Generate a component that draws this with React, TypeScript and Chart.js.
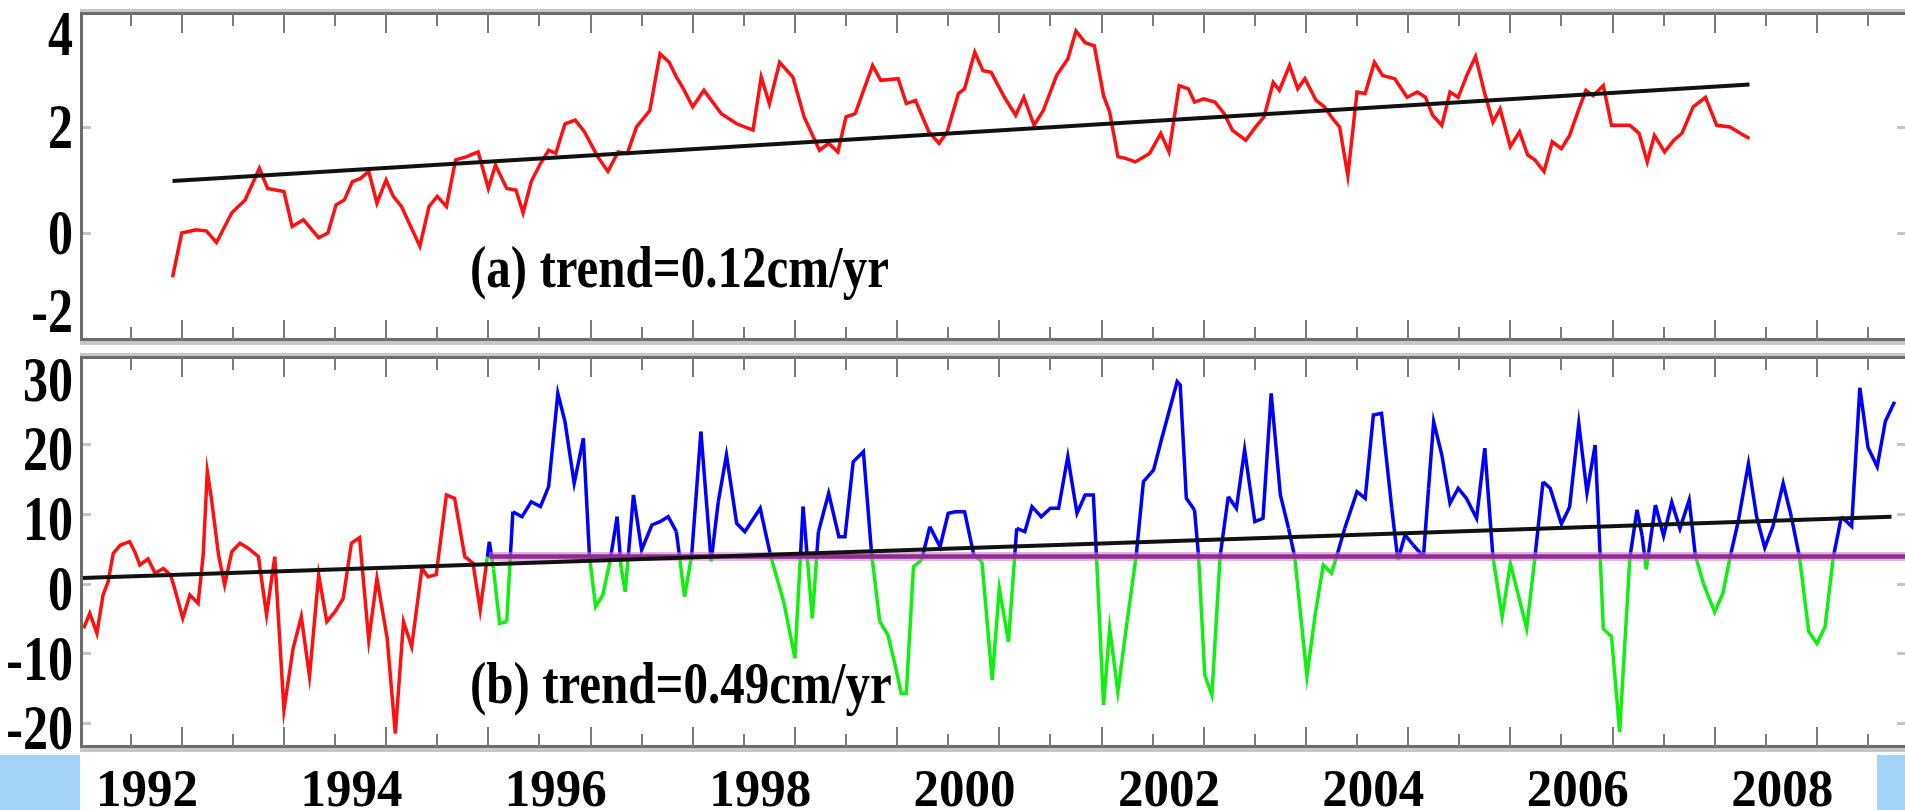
import React, { useEffect, useRef } from 'react';
import { Chart, registerables } from 'chart.js';

Chart.register(...registerables);

// ---------- axis ranges & labels ----------
const X_MIN = 1991.364;
const X_MAX = 2009.202;
const xLabelYears = [1992, 1994, 1996, 1998, 2000, 2002, 2004, 2006, 2008];
const xTickLabels = ['1992', '1994', '1996', '1998', '2000', '2002', '2004', '2006', '2008'];
const topYTicks = [4, 2, 0, -2];
const topYMinor = [2, 0];
const bottomYTicks = [30, 20, 10, 0, -10, -20];
const bottomYMinor = [20, 10, 0, -10, -20];
const annotationA = '(a) trend=0.12cm/yr';
const annotationB = '(b) trend=0.49cm/yr';

// ---------- panel (a) ----------
const topYears = [
  1992.25, 1992.34, 1992.48, 1992.58, 1992.68, 1992.83, 1992.96, 1993.10, 1993.18, 1993.34,
  1993.42, 1993.53, 1993.68, 1993.77, 1993.85, 1993.93, 1994.01, 1994.09, 1994.17, 1994.25,
  1994.34, 1994.41, 1994.49, 1994.67, 1994.76, 1994.84, 1994.93, 1995.02, 1995.13, 1995.24,
  1995.34, 1995.41, 1995.52, 1995.61, 1995.68, 1995.76, 1995.85, 1995.93, 1996.00, 1996.09,
  1996.19, 1996.28, 1996.41, 1996.51, 1996.61, 1996.70, 1996.79, 1996.92, 1997.02, 1997.11,
  1997.18, 1997.24, 1997.34, 1997.45, 1997.62, 1997.77, 1997.93, 1998.01, 1998.09, 1998.19,
  1998.32, 1998.43, 1998.58, 1998.67, 1998.76, 1998.84, 1998.93, 1999.10, 1999.18, 1999.35,
  1999.43, 1999.52, 1999.65, 1999.75, 1999.83, 1999.94, 2000.00, 2000.10, 2000.18, 2000.26,
  2000.39, 2000.50, 2000.58, 2000.68, 2000.77, 2000.90, 2001.01, 2001.09, 2001.18, 2001.27,
  2001.36, 2001.42, 2001.50, 2001.57, 2001.67, 2001.81, 2001.92, 2002.00, 2002.10, 2002.19,
  2002.25, 2002.34, 2002.45, 2002.54, 2002.62, 2002.75, 2002.86, 2002.93, 2003.02, 2003.08,
  2003.18, 2003.26, 2003.33, 2003.44, 2003.52, 2003.60, 2003.67, 2003.75, 2003.84, 2003.92,
  2004.01, 2004.09, 2004.21, 2004.33, 2004.43, 2004.51, 2004.58, 2004.67, 2004.75, 2004.83,
  2004.92, 2005.00, 2005.09, 2005.17, 2005.24, 2005.34, 2005.43, 2005.51, 2005.58, 2005.67,
  2005.75, 2005.84, 2005.92, 2006.00, 2006.08, 2006.15, 2006.25, 2006.33, 2006.42, 2006.51,
  2006.60, 2006.68, 2006.75, 2006.85, 2006.94, 2007.02, 2007.13, 2007.25, 2007.36, 2007.49,
  2007.59, 2007.68,
];
const topValues = [
  -0.84, 0.0, 0.06, 0.04, -0.18, 0.38, 0.62, 1.22, 0.84, 0.78,
  0.12, 0.25, -0.09, 0.0, 0.53, 0.62, 0.97, 1.03, 1.16, 0.56,
  1.0, 0.69, 0.5, -0.25, 0.5, 0.69, 0.5, 1.38, 1.44, 1.53,
  0.84, 1.28, 0.84, 0.81, 0.38, 0.97, 1.31, 1.56, 1.5, 2.06,
  2.13, 1.91, 1.44, 1.16, 1.53, 1.5, 2.0, 2.31, 3.38, 3.22,
  2.94, 2.75, 2.38, 2.69, 2.25, 2.06, 1.94, 2.94, 2.44, 3.22,
  2.94, 2.19, 1.56, 1.69, 1.53, 2.19, 2.25, 3.16, 2.88, 2.91,
  2.44, 2.5, 1.91, 1.69, 1.91, 2.63, 2.72, 3.41, 3.06, 3.03,
  2.56, 2.22, 2.56, 2.03, 2.31, 2.97, 3.28, 3.81, 3.59, 3.53,
  2.59, 2.28, 1.44, 1.41, 1.34, 1.5, 1.88, 1.53, 2.78, 2.72,
  2.47, 2.53, 2.47, 2.25, 1.94, 1.75, 2.03, 2.19, 2.84, 2.69,
  3.16, 2.72, 2.91, 2.5, 2.38, 2.16, 2.0, 1.08, 2.66, 2.63,
  3.22, 2.97, 2.91, 2.56, 2.66, 2.56, 2.22, 2.03, 2.66, 2.56,
  3.0, 3.33, 2.63, 2.09, 2.34, 1.63, 1.91, 1.47, 1.38, 1.16,
  1.72, 1.59, 1.84, 2.28, 2.69, 2.59, 2.78, 2.03, 2.03, 2.03,
  1.88, 1.34, 1.84, 1.53, 1.75, 1.88, 2.38, 2.56, 2.03, 2.0,
  1.88, 1.78,
];
const topTrendYears = [1992.25, 2007.68];
const topTrendValues = [0.98, 2.8];

// ---------- panel (b) ----------
const bottomYears = [
  1991.38, 1991.44, 1991.51, 1991.57, 1991.62, 1991.67, 1991.74, 1991.83, 1991.88, 1991.93,
  1992.01, 1992.08, 1992.16, 1992.23, 1992.27, 1992.35, 1992.42, 1992.50, 1992.55, 1992.59,
  1992.63, 1992.70, 1992.76, 1992.83, 1992.91, 1992.99, 1993.09, 1993.17, 1993.25, 1993.34,
  1993.43, 1993.51, 1993.59, 1993.68, 1993.76, 1993.84, 1993.92, 1994.00, 1994.08, 1994.17,
  1994.25, 1994.35, 1994.43, 1994.51, 1994.59, 1994.69, 1994.75, 1994.83, 1994.93, 1995.01,
  1995.11, 1995.19, 1995.26, 1995.32,
  1995.35, 1995.39, 1995.45, 1995.52, 1995.58, 1995.67, 1995.76, 1995.85, 1995.93, 1996.02,
  1996.09, 1996.18, 1996.27, 1996.33, 1996.39, 1996.46, 1996.53, 1996.60, 1996.64, 1996.68,
  1996.76, 1996.84, 1996.94, 1997.02, 1997.10, 1997.18, 1997.26, 1997.33, 1997.42, 1997.52,
  1997.59, 1997.67, 1997.77, 1997.85, 1998.00, 1998.10, 1998.23, 1998.34, 1998.42, 1998.51,
  1998.57, 1998.67, 1998.77, 1998.83, 1998.91, 1999.01, 1999.09, 1999.17, 1999.25, 1999.32,
  1999.38, 1999.43, 1999.50, 1999.58, 1999.66, 1999.76, 1999.84, 1999.91, 2000.00, 2000.09,
  2000.17, 2000.27, 2000.34, 2000.43, 2000.51, 2000.59, 2000.66, 2000.75, 2000.84, 2000.92,
  2001.01, 2001.10, 2001.18, 2001.26, 2001.29, 2001.36, 2001.42, 2001.50, 2001.59, 2001.68,
  2001.75, 2001.85, 2001.93, 2002.08, 2002.11, 2002.17, 2002.25, 2002.29, 2002.35, 2002.42,
  2002.50, 2002.58, 2002.66, 2002.74, 2002.84, 2002.92, 2003.00, 2003.09, 2003.17, 2003.23,
  2003.35, 2003.43, 2003.51, 2003.59, 2003.64, 2003.72, 2003.84, 2003.92, 2004.00, 2004.08,
  2004.18, 2004.24, 2004.31, 2004.39, 2004.49, 2004.54, 2004.59, 2004.67, 2004.75, 2004.83,
  2004.91, 2005.01, 2005.09, 2005.17, 2005.26, 2005.34, 2005.50, 2005.58, 2005.66, 2005.73,
  2005.84, 2005.92, 2006.01, 2006.09, 2006.17, 2006.22, 2006.25, 2006.33, 2006.41, 2006.51,
  2006.58, 2006.63, 2006.67, 2006.76, 2006.84, 2006.92, 2007.00, 2007.09, 2007.15, 2007.23,
  2007.34, 2007.42, 2007.49, 2007.57, 2007.67, 2007.75, 2007.83, 2007.91, 2008.01, 2008.09,
  2008.17, 2008.26, 2008.34, 2008.42, 2008.50, 2008.58, 2008.68, 2008.76, 2008.84, 2008.93,
  2009.01, 2009.10,
];
const bottomValues = [
  -6.4, -4.25, -7.1, -1.6, 0.3, 4.36, 5.55, 6.03, 4.6, 2.68,
  3.54, 1.49, 2.2, 1.25, -0.66, -4.96, -1.62, -2.81, 4.12, 16.07,
  12.25, 4.12, -0.19, 4.59, 5.8, 5.08, 3.87, -4.49, 3.87, -18.1,
  -9.27, -4.73, -13.3, 1.25, -5.45, -4.02, -2.1, 5.8, 6.6, -8.08,
  0.77, -7.83, -21.5, -5.45, -9.04, 2.2, 1.0, 1.3, 12.73, 12.25,
  3.87, 2.93, -3.77, 2.68,
  6.03, 2.2, -5.68, -5.45, 10.33, 9.61, 11.76, 11.05, 13.92, 27.3,
  23.24, 14.4, 20.86, 3.87, -3.3, -1.62, 3.16, 9.61, 2.2, -1.15,
  12.73, 4.84, 8.42, 8.9, 9.61, 7.46, -1.86, 4.12, 21.8, 3.2,
  11.76, 18.46, 8.66, 7.46, 10.82, 4.12, -2.58, -10.7, 11.05, -4.96,
  7.46, 12.97, 6.74, 6.74, 17.5, 18.94, 4.36, -5.45, -7.36, -11.66,
  -15.72, -15.72, 2.44, 3.4, 8.18, 5.31, 10.1, 10.33, 10.33, 4.12,
  3.16, -13.82, -0.66, -8.32, 7.95, 7.46, 11.05, 9.61, 10.82, 10.82,
  18.22, 10.1, 12.73, 12.73, 4.12, -17.4, -6.4, -15.5, -5.45, 4.12,
  14.63, 16.31, 20.86, 29.0, 28.5, 12.25, 10.57, 3.87, -13.1, -16.0,
  3.87, 12.49, 10.82, 19.2, 8.9, 9.38, 27.3, 12.73, 7.95, 3.87,
  -13.3, -4.49, 2.68, 1.49, 3.87, 7.95, 13.2, 12.25, 24.2, 24.45,
  10.82, 3.4, 6.99, 5.55, 3.87, 13.69, 23.24, 18.46, 11.53, 13.69,
  12.25, 9.38, 19.43, 3.87, -4.73, 2.93, -6.4, 3.64, 14.63, 13.7,
  8.57, 11.0, 23.0, 13.04, 19.9, 3.77, -6.5, -7.56, -21.3, 3.77,
  10.6, 6.86, 2.05, 11.3, 6.86, 11.66, 7.9, 12.0, 4.12, 0,
  -4.1, -1.38, 3.77, 8.92, 17.2, 9.6, 5.15, 8.23, 14.4, 9.6,
  3.77, -6.87, -8.58, -6.18, 3.77, 9.6, 8.23, 28.1, 19.55, 16.8,
  23.3, 26.1,
];
const RED_END_YEAR = 1995.33;
const THRESHOLD = 3.9;
const thresholdYears = [1995.35, 2009.4];
const thresholdValues = [THRESHOLD, THRESHOLD];
const bottomTrendYears = [1991.36, 2009.07];
const bottomTrendValues = [0.82, 9.6];

// ---------- styles ----------
const RED = '#ff1010';
const BLUE = '#0000ff';
const GREEN = '#10f010';
const SERIF = '"Liberation Serif", "Times New Roman", Times, serif';
const TICK_STYLE: [number, number][] = [[0.34, 20], [0.84, 13]];

const pts = (xs: number[], ys: number[]) => xs.map((x, i) => ({ x, y: ys[i] }));

function drawStretched(ctx: CanvasRenderingContext2D, text: string, x: number, baseline: number, sy: number, align: CanvasTextAlign) {
  ctx.save();
  ctx.translate(x, baseline);
  ctx.scale(1, sy);
  ctx.textAlign = align;
  ctx.textBaseline = 'alphabetic';
  ctx.fillText(text, 0, 0);
  ctx.restore();
}

const panelDecor = {
  id: 'panelDecor',
  beforeDraw(chart: any, _a: any, o: any) {
    if (!o.strips) return;
    const ctx = chart.ctx;
    ctx.save();
    ctx.fillStyle = '#a3d4f8';
    ctx.fillRect(0, o.stripTop, 80, chart.height - o.stripTop);
    ctx.fillRect(1877, o.stripTop, chart.width - 1877, chart.height - o.stripTop);
    ctx.restore();
  },
  afterDraw(chart: any, _a: any, o: any) {
    const ctx: CanvasRenderingContext2D = chart.ctx;
    const a = chart.chartArea;
    const xs = chart.scales.x;
    const ys = chart.scales.y;
    const w = a.right - a.left + 2;
    ctx.save();
    // frame
    ctx.fillStyle = '#c8c8c8';
    ctx.fillRect(a.left - 2, a.top - 4, w, 3);
    ctx.fillRect(a.left - 2, a.bottom + 1, w, 4);
    ctx.fillStyle = '#6c6c6c';
    ctx.fillRect(a.left - 2, a.top - 1, w, 3);
    ctx.fillRect(a.left - 2, a.bottom - 2, w, 3);
    ctx.fillRect(a.left - 2, a.top - 1, 3, a.bottom - a.top + 2);
    // inward x ticks
    ctx.fillStyle = '#7a7a7a';
    for (let yr = 1991; yr <= 2009; yr++) {
      for (const [off, len] of TICK_STYLE) {
        const v = yr + off;
        if (v <= X_MIN || v >= X_MAX) continue;
        const px = Math.round(xs.getPixelForValue(v));
        ctx.fillRect(px - 1, a.top, 2, len);
        ctx.fillRect(px - 1, a.bottom - len, 2, len);
      }
    }
    // small y ticks
    ctx.fillStyle = '#c4c4c4';
    for (const t of o.yMinor) {
      const py = Math.round(ys.getPixelForValue(t));
      ctx.fillRect(a.left + 1, py - 1, 8, 3);
      ctx.fillRect(a.right - 8, py - 1, 8, 3);
    }
    // y labels
    ctx.fillStyle = '#000';
    const fs = 50;
    const sy = 1.25;
    ctx.font = `bold ${fs}px ${SERIF}`;
    for (const t of o.yTicks) {
      let cy = ys.getPixelForValue(t) + o.labelOffset;
      if (o.clamp) cy = Math.min(Math.max(cy, a.top + 21), a.bottom - 29);
      drawStretched(ctx, String(t), 73, cy + 0.338 * fs * sy, sy, 'right');
    }
    // annotation
    ctx.font = `bold 49px ${SERIF}`;
    drawStretched(ctx, o.text, 470, o.textBaseline, 1.2, 'left');
    // x labels
    if (o.xLabels) {
      ctx.font = `bold 51px ${SERIF}`;
      xLabelYears.forEach((yr, i) => {
        drawStretched(ctx, xTickLabels[i], xs.getPixelForValue(yr), o.xLabelBaseline, 1.05, 'center');
      });
    }
    ctx.restore();
  },
};

function segColor(c: any) {
  if (bottomYears[c.p1DataIndex] <= RED_END_YEAR) return RED;
  const chart = c.chart;
  const thr = chart.scales.y.getPixelForValue(THRESHOLD);
  const y0 = c.p0.y;
  const y1 = c.p1.y;
  const a0 = y0 <= thr;
  const a1 = y1 <= thr;
  if (a0 && a1) return BLUE;
  if (!a0 && !a1) return GREEN;
  const t = Math.min(1, Math.max(0, (thr - y0) / (y1 - y0)));
  const g = chart.ctx.createLinearGradient(c.p0.x, y0, c.p1.x, y1);
  const c0 = a0 ? BLUE : GREEN;
  const c1 = a1 ? BLUE : GREEN;
  g.addColorStop(0, c0);
  g.addColorStop(t, c0);
  g.addColorStop(t, c1);
  g.addColorStop(1, c1);
  return g;
}

function topConfig(): any {
  return {
    type: 'line',
    data: {
      datasets: [
        { label: 'trend', data: pts(topTrendYears, topTrendValues), borderColor: '#111111', borderWidth: 4, pointRadius: 0, tension: 0 },
        { label: 'sea level (a)', data: pts(topYears, topValues), borderColor: RED, borderWidth: 3.5, pointRadius: 0, tension: 0 },
      ],
    },
    options: {
      responsive: false,
      animation: false,
      events: [],
      layout: { padding: { left: 82, right: 0, top: 13, bottom: 10 } },
      scales: {
        x: { type: 'linear', min: X_MIN, max: X_MAX, display: false },
        y: { type: 'linear', min: -2.02, max: 4.15, display: false },
      },
      plugins: {
        legend: { display: false },
        tooltip: { enabled: false },
        panelDecor: {
          yTicks: topYTicks, yMinor: topYMinor, labelOffset: 0, clamp: true,
          text: annotationA, textBaseline: 287, xLabels: false, strips: false,
        },
      },
    },
    plugins: [panelDecor],
  };
}

function bottomConfig(): any {
  return {
    type: 'line',
    data: {
      datasets: [
        { label: 'trend', data: pts(bottomTrendYears, bottomTrendValues), borderColor: '#111111', borderWidth: 4, pointRadius: 0, tension: 0 },
        { label: 'threshold', data: pts(thresholdYears, thresholdValues), borderColor: '#922c92', borderWidth: 4.5, pointRadius: 0, tension: 0 },
        { label: 'threshold halo', data: pts(thresholdYears, thresholdValues), borderColor: 'rgba(200,120,200,0.55)', borderWidth: 9, pointRadius: 0, tension: 0 },
        {
          label: 'sea level (b)', data: pts(bottomYears, bottomValues), borderColor: BLUE, borderWidth: 3.5, pointRadius: 0, tension: 0,
          segment: { borderColor: segColor },
        },
      ],
    },
    options: {
      responsive: false,
      animation: false,
      events: [],
      layout: { padding: { left: 82, right: 0, top: 7, bottom: 63 } },
      scales: {
        x: { type: 'linear', min: X_MIN, max: X_MAX, display: false },
        y: { type: 'linear', min: -23.43, max: 32.52, display: false },
      },
      plugins: {
        legend: { display: false },
        tooltip: { enabled: false },
        panelDecor: {
          yTicks: bottomYTicks, yMinor: bottomYMinor, labelOffset: 5, clamp: false,
          text: annotationB, textBaseline: 353, xLabels: true, xLabelBaseline: 456,
          strips: true, stripTop: 405,
        },
      },
    },
    plugins: [panelDecor],
  };
}

function Panel({ make, top, height }: { make: () => any; top: number; height: number }) {
  const ref = useRef<HTMLCanvasElement | null>(null);
  useEffect(() => {
    if (!ref.current) return;
    const chart = new Chart(ref.current, make());
    return () => chart.destroy();
  }, []);
  return (
    <canvas
      ref={ref}
      width={1905}
      height={height}
      style={{ position: 'absolute', left: 0, top, display: 'block' }}
    />
  );
}

export default function App() {
  return (
    <div style={{ position: 'fixed', left: 0, top: 0, width: 1905, height: 810, background: '#ffffff', overflow: 'hidden' }}>
      <Panel make={topConfig} top={0} height={350} />
      <Panel make={bottomConfig} top={350} height={460} />
    </div>
  );
}
